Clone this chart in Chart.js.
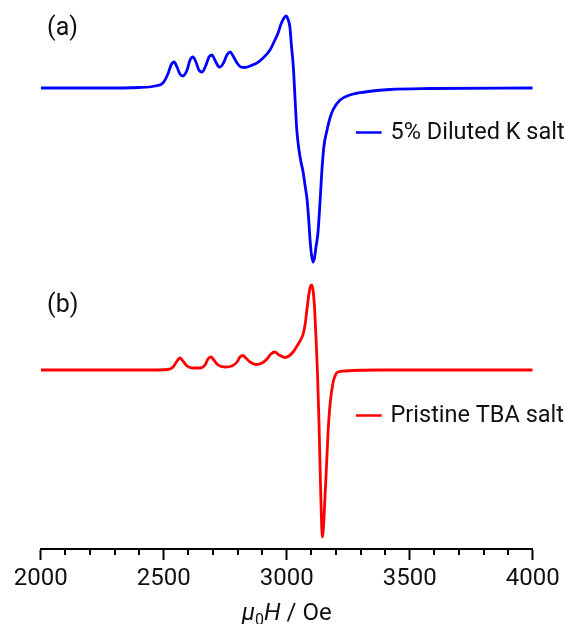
<!DOCTYPE html>
<html><head><meta charset="utf-8">
<script src="https://cdn.jsdelivr.net/npm/chart.js@4.4.0/dist/chart.umd.min.js"></script>
<style>html,body{margin:0;padding:0;background:#fff}#wrap{width:565px;height:624px}</style>
</head><body><div id="wrap"><canvas id="c" width="565" height="624"></canvas></div>
<script>
// Field (Oe) and EPR derivative signal (arbitrary units) for each sample
const blueField = [2000,2241,2403,2465,2497,2517,2530,2542,2554,2566,2578,2595,2607,2619,2631,2643,2656,2672,2684,2696,2708,2721,2729,2745,2757,2770,2782,2798,2814,2830,2851,2879,2904,2932,2952,2965,2977,2989,2997,3005,3013,3019,3027,3034,3041,3050,3058,3066,3075,3083,3091,3095,3101,3107,3113,3119,3127,3136,3144,3152,3164,3176,3188,3217,3257,3318,3420,3583,4000];
const blueSignal = [0,0,0.5,2,5,14,23,26,21,14,12,18,28,31,26,18,16,23,31,33,28,22,21,26,33,36,32,25,21,20.5,22,25,30,38,48,55,64,70,72,69,61,43,21,-11,-42,-62,-74,-83,-98,-112,-137,-152,-167,-174,-170,-159,-145,-112,-79,-57,-42,-30,-22,-12,-7,-4,-1.5,-0.5,0];
const redField = [2000,2444,2517,2538,2554,2566,2578,2595,2619,2648,2668,2680,2692,2704,2721,2749,2778,2798,2810,2822,2834,2851,2875,2900,2920,2936,2952,2969,2993,3009,3026,3042,3054,3067,3075,3083,3091,3097,3102,3107,3112,3119,3125,3131,3137,3142,3146,3150,3156,3162,3168,3176,3188,3200,3209,3237,3380,4000];
const redSignal = [0,0,0.5,3,9,12,9,4,2,2,5,11,13,10,5,3,4,8,13,14.5,12,8,5.5,7,11,16,18,15,12.5,14,18,24,29,36,46,62,77,84,85,80,67,33,-2,-50,-110,-155,-167,-155,-125,-95,-63,-35,-13,-4,-2,-1,0,0];
const seriesNames = ['5% Diluted K salt', 'Pristine TBA salt'];
const panelLabels = ['(a)', '(b)'];
const xMin = 2000, xMax = 4000, majorStep = 500, minorStep = 100;

// vertical stacking offsets of the two traces (display only)
const blueOffset = 461, redOffset = 179;

function toPoints(xs, ys, off) { return xs.map((x, i) => ({x: x, y: ys[i] + off})); }

const FONT = 'Roboto';

const annot = {
  id: 'annot',
  afterDraw(chart) {
    const ctx = chart.ctx, xs = chart.scales.x, ys = chart.scales.y;
    ctx.save();
    // minor ticks
    ctx.strokeStyle = '#000'; ctx.lineWidth = 2;
    const top = xs.top;
    for (let v = xMin; v <= xMax; v += minorStep) {
      if (v % majorStep === 0) continue;
      const px = Math.round(xs.getPixelForValue(v));
      ctx.beginPath(); ctx.moveTo(px, top); ctx.lineTo(px, top + 6); ctx.stroke();
    }
    // axis title: mu_0 H / Oe
    ctx.fillStyle = '#111';
    ctx.textBaseline = 'alphabetic';
    const parts = [
      {t: 'μ', f: 'italic 24px ' + FONT, dy: 0},
      {t: '0', f: '16px ' + FONT, dy: 5},
      {t: 'H', f: 'italic 24px ' + FONT, dy: 0},
      {t: ' / Oe', f: '24px ' + FONT, dy: 0}
    ];
    let w = 0;
    parts.forEach(p => { ctx.font = p.f; p.w = ctx.measureText(p.t).width; w += p.w; });
    let x0 = (chart.chartArea.left + chart.chartArea.right) / 2 - w / 2;
    const by = 620;
    ctx.textAlign = 'left';
    parts.forEach(p => { ctx.font = p.f; ctx.fillText(p.t, x0, by + p.dy); x0 += p.w; });
    // panel labels
    ctx.font = '25px ' + FONT; ctx.textBaseline = 'middle';
    ctx.fillText(panelLabels[0], xs.getPixelForValue(2026), ys.getPixelForValue(520));
    ctx.fillText(panelLabels[1], xs.getPixelForValue(2026), ys.getPixelForValue(243));
    // legends
    const colors = ['#0000ff', '#ff0000'];
    const ly = [416.5, 133.5];
    ctx.font = '23.5px ' + FONT;
    for (let i = 0; i < 2; i++) {
      const y = ys.getPixelForValue(ly[i]);
      ctx.strokeStyle = colors[i]; ctx.lineWidth = 2.5;
      ctx.beginPath(); ctx.moveTo(xs.getPixelForValue(3281), y); ctx.lineTo(xs.getPixelForValue(3386), y); ctx.stroke();
      ctx.fillStyle = '#111';
      ctx.fillText(seriesNames[i], xs.getPixelForValue(3422), y + 1);
    }
    ctx.restore();
  }
};

new Chart(document.getElementById('c'), {
  type: 'line',
  data: {
    datasets: [
      {label: seriesNames[0], data: toPoints(blueField, blueSignal, blueOffset), borderColor: '#0000ff', borderWidth: 2.8, pointRadius: 0, cubicInterpolationMode: 'monotone', fill: false},
      {label: seriesNames[1], data: toPoints(redField, redSignal, redOffset), borderColor: '#ff0000', borderWidth: 2.8, pointRadius: 0, cubicInterpolationMode: 'monotone', fill: false}
    ]
  },
  options: {
    responsive: false, animation: false, devicePixelRatio: 1,
    layout: {padding: {left: 40.7, right: 32.3, top: 0, bottom: 25.2}},
    plugins: {legend: {display: false}, tooltip: {enabled: false}},
    scales: {
      x: {
        type: 'linear', min: xMin, max: xMax, position: 'bottom',
        ticks: {stepSize: majorStep, padding: 5, color: '#111', font: {family: FONT, size: 24}, maxRotation: 0, autoSkip: false,
                callback: (v) => String(v)},
        grid: {drawOnChartArea: false, drawTicks: true, tickLength: 11, tickWidth: 2, tickColor: '#000'},
        border: {display: true, color: '#000', width: 2}
      },
      y: {display: false, min: 0, max: 549}
    }
  },
  plugins: [annot]
});
</script>
</body></html>
